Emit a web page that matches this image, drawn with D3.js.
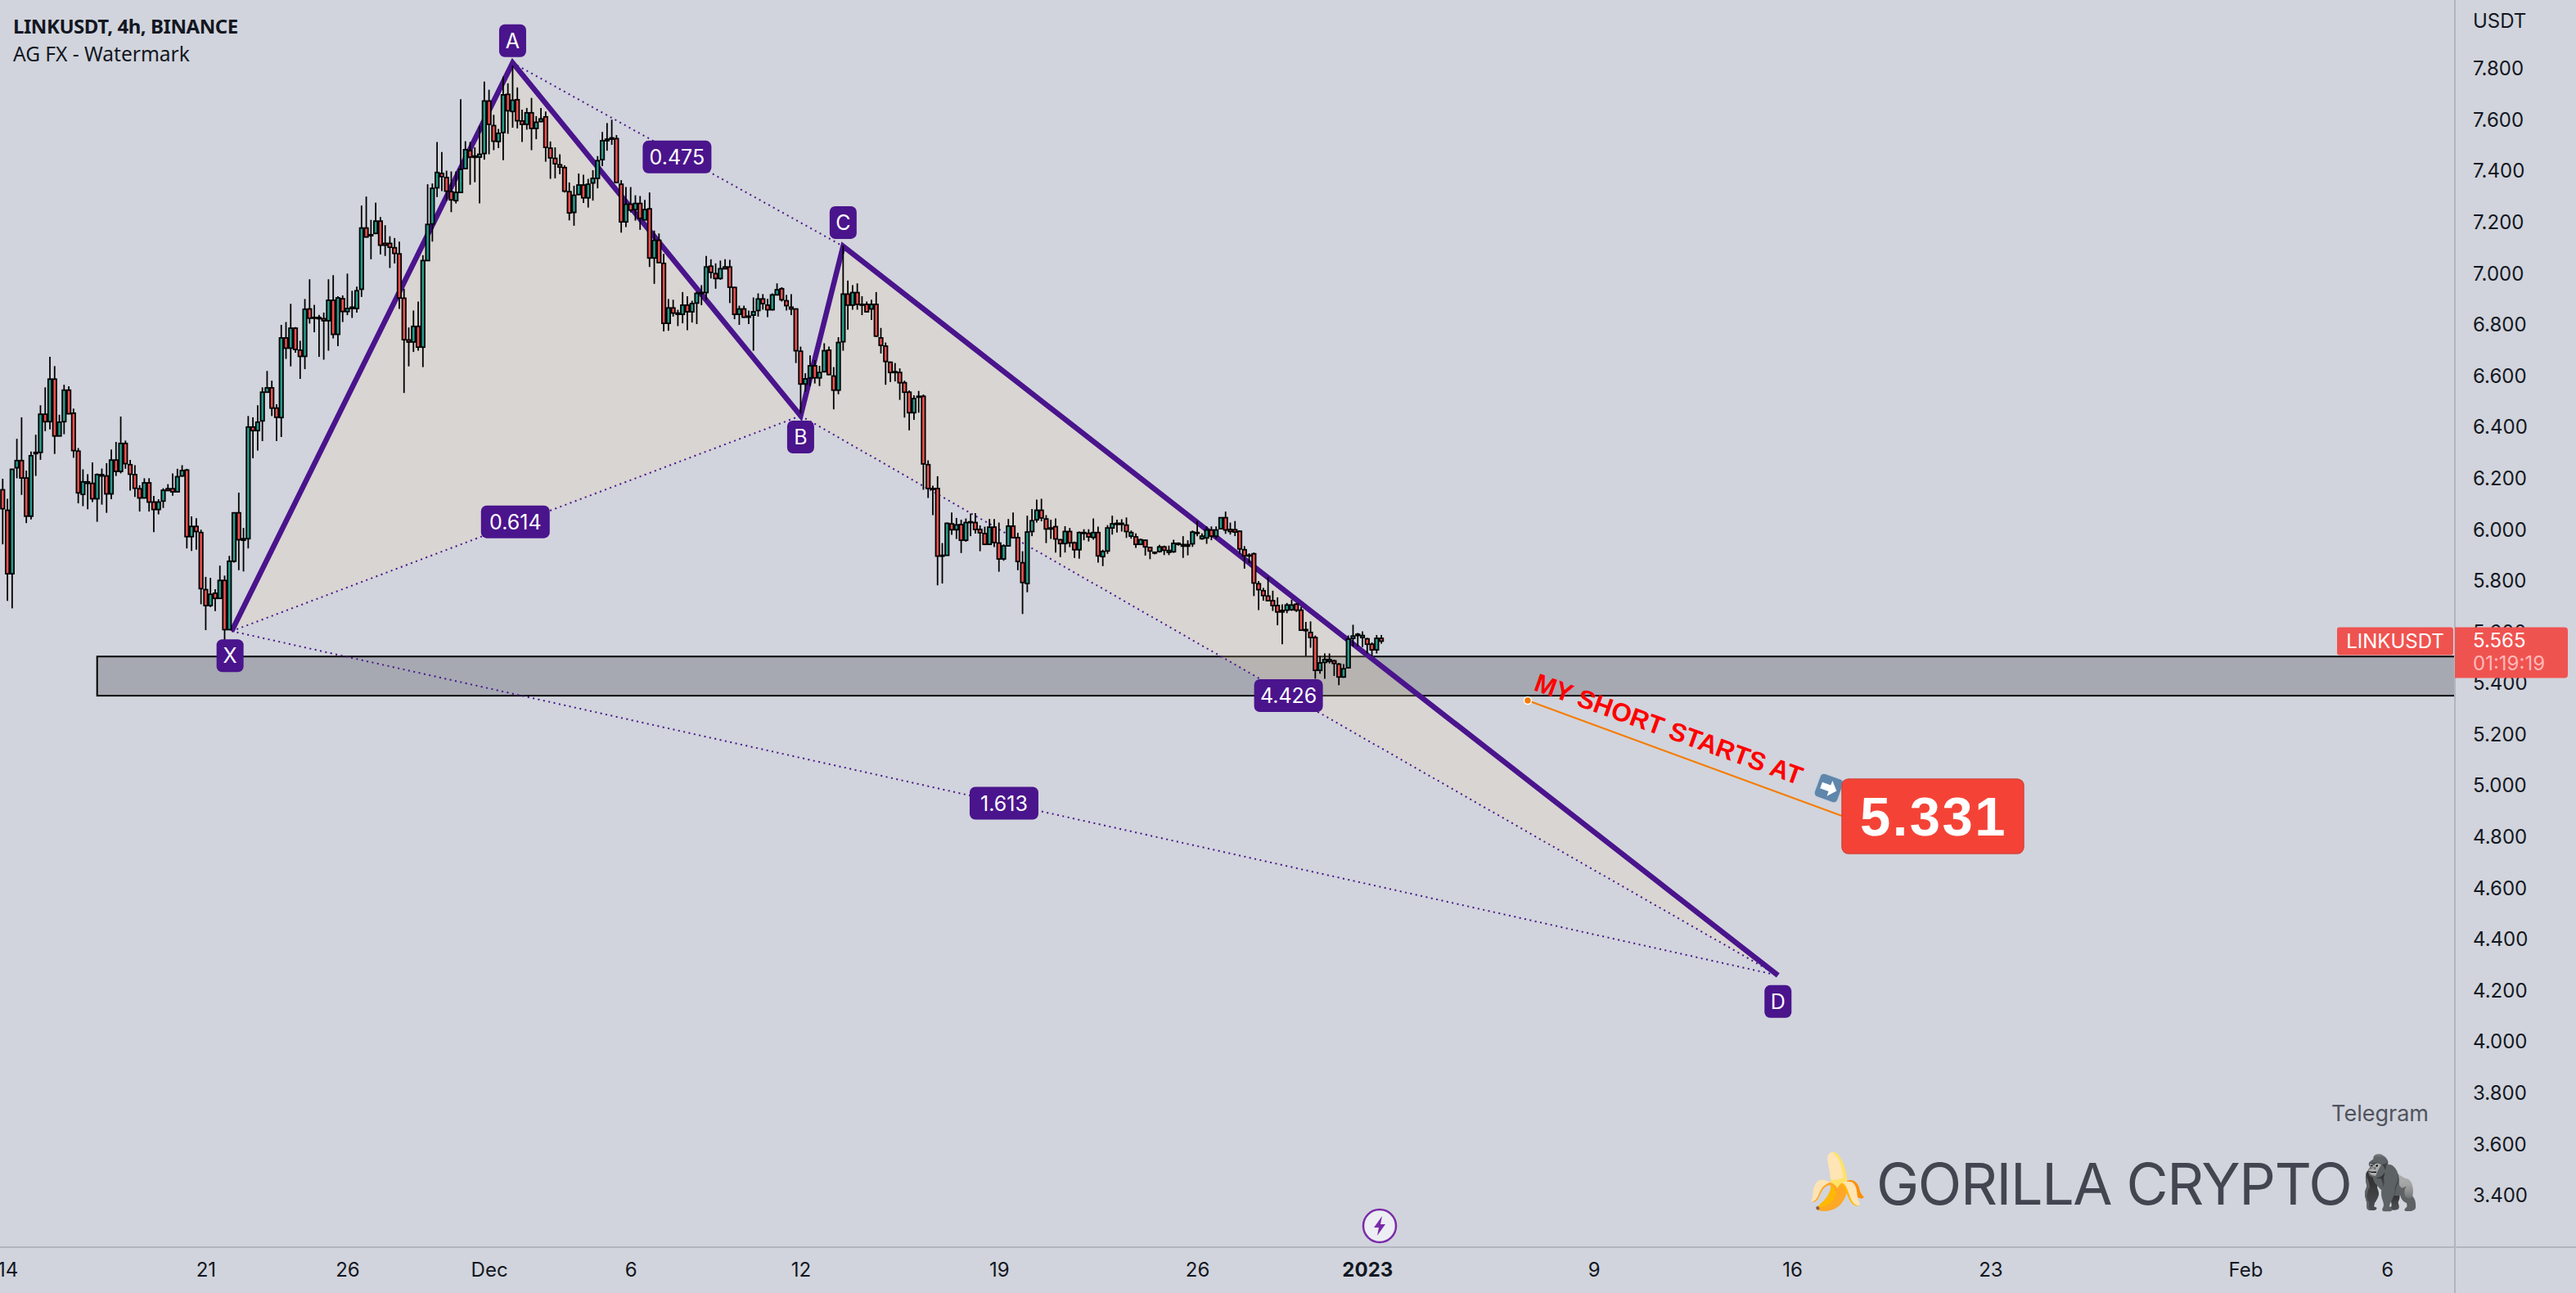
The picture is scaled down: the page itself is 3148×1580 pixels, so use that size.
<!DOCTYPE html>
<html>
<head>
<meta charset="utf-8">
<style>
  body { margin: 0; background: #d1d4dc; overflow: hidden; }
  text { font-family: Inter, "Noto Sans", sans-serif; }
</style>
<script src="https://cdn.jsdelivr.net/npm/d3@7"></script>
</head>
<body>
<div id="chart"></div>
<script>
// LINKUSDT 4h bars. First bar opens 13 Nov 2022 20:00
var firstBar = Date.UTC(2022, 10, 13, 20);
var opens = [
  6.156,6.076,5.828,6.242,6.270,6.202,6.053,6.297,6.302,6.451,
  6.422,6.588,6.366,6.422,6.545,6.455,6.307,6.138,6.187,6.181,
  6.121,6.215,6.210,6.140,6.272,6.228,6.337,6.254,6.215,6.160,
  6.124,6.183,6.108,6.079,6.112,6.160,6.160,6.148,6.210,6.233,
  5.973,6.013,5.989,5.766,5.704,5.752,5.732,5.802,5.610,5.877,
  6.066,5.965,5.965,6.401,6.387,6.425,6.537,6.554,6.475,6.438,
  6.749,6.709,6.787,6.701,6.677,6.862,6.829,6.829,6.824,6.816,
  6.896,6.763,6.902,6.852,6.864,6.864,6.939,7.178,7.152,7.157,
  7.205,7.118,7.118,7.101,7.077,6.904,6.741,6.733,6.794,6.713,
  7.051,7.194,7.335,7.391,7.375,7.320,7.285,7.317,7.410,7.480,
  7.459,7.455,7.469,7.674,7.578,7.516,7.551,7.700,7.633,7.679,
  7.596,7.583,7.628,7.567,7.594,7.612,7.490,7.450,7.425,7.414,
  7.320,7.239,7.309,7.346,7.296,7.354,7.372,7.445,7.519,7.530,
  7.527,7.349,7.202,7.271,7.250,7.274,7.210,7.253,7.061,7.130,
  7.040,6.806,6.866,6.846,6.841,6.877,6.851,6.885,6.923,6.926,
  7.029,7.000,6.981,7.019,7.026,6.946,6.841,6.862,6.834,6.838,
  6.856,6.901,6.877,6.859,6.917,6.941,6.894,6.869,6.862,6.697,
  6.569,6.593,6.640,6.593,6.617,6.701,6.600,6.545,6.734,6.920,
  6.877,6.926,6.880,6.880,6.862,6.880,6.749,6.717,6.654,6.617,
  6.614,6.574,6.537,6.457,6.521,6.521,6.254,6.161,6.161,5.900,
  5.900,6.023,6.000,6.020,5.959,6.028,6.028,6.001,5.985,5.943,
  6.010,5.948,5.886,5.937,6.014,5.969,5.871,5.790,5.993,6.039,
  6.076,6.042,6.007,6.012,5.961,5.946,5.993,5.949,5.922,5.989,
  5.986,5.970,5.989,5.895,5.917,6.007,6.025,6.025,6.018,5.975,
  5.972,5.943,5.959,5.931,5.912,5.915,5.933,5.912,5.914,5.947,
  5.942,5.942,5.945,5.986,5.965,5.968,5.999,5.975,6.004,6.047,
  6.001,6.000,5.994,5.922,5.901,5.906,5.789,5.762,5.741,5.723,
  5.704,5.685,5.686,5.688,5.709,5.686,5.610,5.599,5.579,5.451,
  5.482,5.486,5.488,5.475,5.425,5.461,5.576,5.592,5.579,5.574,
  5.553,5.531,5.576
];
var highs = [
  6.199,6.121,6.238,6.355,6.439,6.231,6.305,6.371,6.486,6.556,
  6.675,6.639,6.449,6.566,6.560,6.473,6.319,6.236,6.217,6.263,
  6.220,6.239,6.260,6.313,6.343,6.442,6.348,6.273,6.252,6.174,
  6.201,6.201,6.132,6.119,6.162,6.178,6.220,6.238,6.252,6.238,
  6.052,6.045,6.000,5.816,5.812,5.768,5.860,5.821,5.898,6.068,
  6.145,6.007,6.444,6.439,6.486,6.556,6.620,6.582,6.490,6.800,
  6.811,6.882,6.791,6.738,6.901,6.978,6.878,6.839,6.848,6.978,
  6.994,6.912,6.915,7.000,6.933,6.949,7.266,7.301,7.210,7.277,
  7.221,7.189,7.146,7.139,7.125,6.941,6.790,6.856,6.891,7.072,
  7.349,7.352,7.514,7.475,7.402,7.399,7.399,7.681,7.517,7.514,
  7.493,7.578,7.750,7.718,7.620,7.565,7.770,7.743,7.812,7.727,
  7.640,7.647,7.686,7.615,7.647,7.633,7.516,7.493,7.466,7.423,
  7.356,7.343,7.391,7.386,7.370,7.404,7.459,7.553,7.588,7.601,
  7.541,7.365,7.338,7.338,7.306,7.303,7.288,7.317,7.168,7.157,
  7.077,6.901,6.898,6.859,6.928,6.912,6.894,6.930,6.955,7.069,
  7.056,7.040,7.051,7.056,7.054,6.949,6.875,6.875,6.856,6.907,
  6.923,6.920,6.901,6.923,6.962,6.947,6.917,6.920,6.862,6.715,
  6.611,6.681,6.662,6.640,6.728,6.715,6.635,6.752,7.109,6.973,
  6.955,6.962,6.912,6.891,6.898,6.928,6.788,6.731,6.657,6.651,
  6.630,6.582,6.544,6.525,6.542,6.528,6.271,6.172,6.209,5.948,
  6.028,6.067,6.046,6.039,6.044,6.063,6.065,6.017,6.012,6.042,
  6.042,6.028,5.943,6.042,6.067,5.988,5.916,6.055,6.081,6.118,
  6.121,6.057,6.039,6.044,5.964,6.014,6.007,5.954,5.993,6.002,
  6.002,6.044,6.012,5.922,6.018,6.055,6.039,6.041,6.048,5.997,
  5.986,5.965,5.961,5.933,5.915,5.941,5.938,5.938,5.961,5.951,
  5.975,5.959,5.997,6.034,5.986,6.013,6.013,6.013,6.048,6.071,
  6.028,6.034,5.997,5.936,5.908,5.911,5.800,5.773,5.816,5.762,
  5.736,5.709,5.714,5.727,5.714,5.699,5.640,5.642,5.587,5.507,
  5.517,5.517,5.493,5.480,5.475,5.587,5.629,5.597,5.603,5.578,
  5.560,5.589,5.589
];
var lows = [
  5.943,5.722,5.693,6.201,6.136,6.026,6.040,6.210,6.273,6.385,
  6.392,6.296,6.366,6.373,6.451,6.281,6.103,6.092,6.080,6.108,
  6.031,6.098,6.066,6.119,6.210,6.220,6.238,6.153,6.128,6.071,
  6.124,6.071,5.991,6.060,6.085,6.151,6.133,6.148,6.207,5.927,
  5.917,5.922,5.709,5.608,5.698,5.682,5.730,5.533,5.608,5.872,
  5.842,5.837,5.927,6.279,6.309,6.346,6.537,6.444,6.346,6.362,
  6.667,6.638,6.691,6.589,6.627,6.805,6.771,6.675,6.664,6.699,
  6.747,6.717,6.811,6.838,6.827,6.848,6.909,7.141,7.056,7.154,
  7.075,7.069,7.022,7.040,6.862,6.534,6.638,6.694,6.699,6.635,
  7.051,7.125,7.299,7.322,7.285,7.240,7.274,7.317,7.407,7.347,
  7.357,7.274,7.445,7.466,7.482,7.490,7.443,7.546,7.570,7.567,
  7.514,7.562,7.482,7.525,7.591,7.437,7.370,7.372,7.388,7.317,
  7.208,7.187,7.306,7.276,7.258,7.285,7.333,7.420,7.480,7.503,
  7.354,7.160,7.182,7.239,7.207,7.171,7.210,7.026,6.960,7.043,
  6.774,6.777,6.832,6.795,6.806,6.779,6.809,6.803,6.877,6.896,
  6.981,6.941,6.976,7.019,6.885,6.822,6.800,6.827,6.803,6.699,
  6.832,6.859,6.830,6.856,6.915,6.891,6.856,6.838,6.651,6.454,
  6.539,6.561,6.571,6.561,6.614,6.603,6.470,6.529,6.699,6.781,
  6.859,6.859,6.838,6.848,6.819,6.752,6.688,6.566,6.577,6.579,
  6.507,6.438,6.388,6.429,6.457,6.156,6.124,6.057,5.783,5.790,
  5.900,5.980,5.964,5.909,5.953,5.975,5.985,5.916,5.940,5.943,
  5.932,5.836,5.879,5.937,5.967,5.842,5.671,5.756,5.975,6.028,
  6.033,5.948,5.964,5.911,5.893,5.911,5.932,5.890,5.887,5.959,
  5.954,5.961,5.872,5.858,5.906,5.981,5.989,5.993,5.968,5.965,
  5.929,5.940,5.899,5.885,5.904,5.911,5.901,5.901,5.910,5.938,
  5.890,5.900,5.933,5.975,5.961,5.945,5.959,5.965,6.001,5.984,
  5.981,5.975,5.906,5.848,5.869,5.741,5.686,5.723,5.720,5.683,
  5.627,5.553,5.674,5.683,5.679,5.606,5.507,5.539,5.418,5.438,
  5.418,5.478,5.429,5.393,5.422,5.459,5.544,5.544,5.542,5.517,
  5.507,5.517,5.555
];
var closes = [
  6.082,5.828,6.236,6.270,6.202,6.053,6.289,6.302,6.451,6.422,
  6.588,6.366,6.420,6.545,6.453,6.309,6.144,6.187,6.181,6.121,
  6.215,6.210,6.140,6.272,6.228,6.337,6.258,6.217,6.162,6.124,
  6.183,6.108,6.079,6.108,6.154,6.153,6.148,6.207,6.231,5.973,
  6.013,5.993,5.770,5.704,5.748,5.732,5.802,5.610,5.877,6.066,
  5.961,5.959,6.401,6.387,6.420,6.537,6.554,6.475,6.439,6.749,
  6.709,6.787,6.704,6.677,6.861,6.826,6.826,6.824,6.816,6.896,
  6.763,6.905,6.852,6.864,6.869,6.933,7.178,7.143,7.148,7.205,
  7.111,7.111,7.103,7.079,6.905,6.742,6.733,6.794,6.713,7.051,
  7.192,7.333,7.395,7.379,7.322,7.288,7.317,7.407,7.484,7.455,
  7.454,7.466,7.674,7.583,7.517,7.548,7.698,7.636,7.677,7.597,
  7.583,7.628,7.567,7.591,7.604,7.493,7.452,7.429,7.416,7.322,
  7.237,7.306,7.346,7.296,7.349,7.372,7.441,7.519,7.525,7.525,
  7.356,7.202,7.271,7.248,7.274,7.216,7.250,7.061,7.130,7.043,
  6.806,6.866,6.846,6.841,6.877,6.851,6.883,6.923,6.926,7.026,
  7.005,6.981,7.019,7.026,6.947,6.841,6.862,6.830,6.830,6.851,
  6.901,6.883,6.859,6.917,6.937,6.898,6.875,6.862,6.699,6.569,
  6.589,6.640,6.593,6.614,6.699,6.606,6.545,6.731,6.920,6.877,
  6.926,6.880,6.878,6.851,6.880,6.756,6.720,6.657,6.614,6.614,
  6.574,6.537,6.457,6.512,6.518,6.257,6.161,6.159,5.897,5.897,
  6.025,6.000,6.019,5.959,6.028,6.031,6.001,5.988,5.943,6.010,
  5.950,5.886,5.937,6.014,5.969,5.876,5.794,5.991,6.035,6.076,
  6.046,6.003,6.003,5.964,5.946,5.993,5.949,5.922,5.989,5.986,
  5.972,5.989,5.898,5.915,6.007,6.023,6.021,6.021,5.993,5.989,
  5.943,5.961,5.933,5.917,5.910,5.933,5.920,5.919,5.947,5.943,
  5.936,5.936,5.991,5.989,5.975,5.999,5.975,5.999,6.047,5.999,
  5.993,5.991,5.925,5.898,5.898,5.792,5.766,5.743,5.723,5.704,
  5.679,5.679,5.706,5.706,5.686,5.608,5.606,5.579,5.451,5.480,
  5.493,5.493,5.478,5.425,5.457,5.573,5.585,5.587,5.587,5.553,
  5.531,5.576,5.565
];

// harmonic pattern points
var patternNames = ["X", "A", "B", "C", "D"];
var patternDates = [
  Date.UTC(2022, 10, 21, 22),
  Date.UTC(2022, 11, 1, 20),
  Date.UTC(2022, 11, 12, 0),
  Date.UTC(2022, 11, 13, 12),
  Date.UTC(2023, 0, 15, 12)
];
var patternPrices = [5.604, 7.823, 6.445, 7.107, 4.26];
// dotted legs as index pairs and their ratio labels
var ratioLegs = [[0, 2], [1, 3], [2, 4], [0, 4]];
var ratioLabels = ["0.614", "0.475", "4.426", "1.613"];

var zonePrices = [5.505, 5.352];
var zoneDates = [Date.UTC(2022, 10, 17, 4), Date.UTC(2023, 1, 12)];
var entryDate = Date.UTC(2023, 0, 6, 16);
var entryPrice = 5.333;
var lastPrice = 5.565;

var priceTicks = d3.range(3.4, 7.81, 0.2);
var timeTicks = [
  Date.UTC(2022, 10, 14), Date.UTC(2022, 10, 21), Date.UTC(2022, 10, 26),
  Date.UTC(2022, 11, 1), Date.UTC(2022, 11, 6), Date.UTC(2022, 11, 12),
  Date.UTC(2022, 11, 19), Date.UTC(2022, 11, 26), Date.UTC(2023, 0, 1),
  Date.UTC(2023, 0, 9), Date.UTC(2023, 0, 16), Date.UTC(2023, 0, 23),
  Date.UTC(2023, 1, 1), Date.UTC(2023, 1, 6)
];
var timeLabels = ["14", "21", "26", "Dec", "6", "12", "19", "26", "2023", "9", "16", "23", "Feb", "6"];

var width = 3148,
  height = 1580,
  plotRight = 3000,
  plotBottom = 1524;

var purple = "#4a148c";

var x = d3
  .scaleUtc()
  .domain([Date.UTC(2022, 11, 1), Date.UTC(2023, 1, 1)])
  .range([597.6, 2744]);
var y = d3.scaleLinear().domain([3.4, 7.8]).range([1461, 84]);

var svg = d3
  .select("#chart")
  .append("svg")
  .attr("width", width)
  .attr("height", height)
  .style("display", "block");

svg.append("rect").attr("width", width).attr("height", height).attr("fill", "#d1d4dc");

svg
  .append("clipPath")
  .attr("id", "plot")
  .append("rect")
  .attr("width", plotRight)
  .attr("height", plotBottom);

var plot = svg.append("g").attr("clip-path", "url(#plot)");

// support zone
plot
  .append("rect")
  .attr("x", x(zoneDates[0]))
  .attr("y", y(zonePrices[0]))
  .attr("width", x(zoneDates[1]) - x(zoneDates[0]))
  .attr("height", y(zonePrices[1]) - y(zonePrices[0]))
  .attr("fill", "#a6a9b2")
  .attr("stroke", "#000")
  .attr("stroke-width", 2);

var pts = patternNames.map(function (name, i) {
  return { name: name, x: x(patternDates[i]), y: y(patternPrices[i]) };
});

// pattern triangles
[[0, 1, 2], [2, 3, 4]].forEach(function (tri) {
  plot
    .append("path")
    .attr("d", d3.line().x((i) => pts[i].x).y((i) => pts[i].y)(tri) + "Z")
    .attr("fill", "rgba(250,222,170,0.2)");
});

// dotted legs
plot
  .selectAll(".leg")
  .data(ratioLegs)
  .enter()
  .append("line")
  .attr("class", "leg")
  .attr("x1", (d) => pts[d[0]].x)
  .attr("y1", (d) => pts[d[0]].y)
  .attr("x2", (d) => pts[d[1]].x)
  .attr("y2", (d) => pts[d[1]].y)
  .attr("stroke", purple)
  .attr("stroke-width", 2)
  .attr("stroke-dasharray", "2 4.5");

// thick XABCD line
plot
  .append("path")
  .attr("d", d3.line().x((d) => d.x).y((d) => d.y)(pts))
  .attr("fill", "none")
  .attr("stroke", purple)
  .attr("stroke-width", 6.5);

// candles
var bars = opens.map(function (o, i) {
  return {
    t: firstBar + i * 4 * 3600 * 1000,
    o: o,
    h: highs[i],
    l: lows[i],
    c: closes[i]
  };
});

var candle = plot
  .selectAll(".candle")
  .data(bars)
  .enter()
  .append("g")
  .attr("class", "candle");

candle
  .append("line")
  .attr("x1", (d) => x(d.t))
  .attr("x2", (d) => x(d.t))
  .attr("y1", (d) => y(d.h))
  .attr("y2", (d) => y(d.l))
  .attr("stroke", "#000")
  .attr("stroke-width", 1.8);

candle
  .append("rect")
  .attr("x", (d) => x(d.t) - 2.2)
  .attr("width", 4.4)
  .attr("y", (d) => y(Math.max(d.o, d.c)))
  .attr("height", (d) => Math.max(1, Math.abs(y(d.o) - y(d.c))))
  .attr("fill", (d) => (d.c >= d.o ? "#26998a" : "#e9504f"))
  .attr("stroke", "#000")
  .attr("stroke-width", 1.8);

// point and ratio labels
function label(cx, cy, w, h, txt) {
  svg
    .append("rect")
    .attr("x", cx - w / 2)
    .attr("y", cy - h / 2)
    .attr("width", w)
    .attr("height", h)
    .attr("rx", 7)
    .attr("fill", purple);
  svg
    .append("text")
    .attr("x", cx)
    .attr("y", cy)
    .attr("dy", "0.36em")
    .attr("text-anchor", "middle")
    .attr("font-size", 25)
    .attr("fill", "#fff")
    .text(txt);
}

var labelOffsets = { X: 30, A: -27, B: 26, C: -29, D: 32 };
pts.forEach(function (p) {
  label(p.x - (p.name == "X" ? 2 : 0), p.y + labelOffsets[p.name], 33, 40, p.name);
});
var ratioNudge = [-2, 3, 0, 0];
ratioLegs.forEach(function (leg, i) {
  var a = pts[leg[0]],
    b = pts[leg[1]];
  label((a.x + b.x) / 2 - 1, (a.y + b.y) / 2 + ratioNudge[i], 84, 40, ratioLabels[i]);
});

// short entry callout
var entryX = x(entryDate),
  entryY = y(entryPrice);
var boxX = 2251,
  boxY = 952,
  boxW = 222,
  boxH = 91;

svg
  .append("line")
  .attr("x1", entryX)
  .attr("y1", entryY)
  .attr("x2", boxX)
  .attr("y2", boxY + 45)
  .attr("stroke", "#f57c00")
  .attr("stroke-width", 2);
svg
  .append("circle")
  .attr("cx", entryX)
  .attr("cy", entryY)
  .attr("r", 4.5)
  .attr("fill", "#f57c00")
  .attr("stroke", "#fff")
  .attr("stroke-width", 1.5);
svg
  .append("text")
  .attr("transform", "translate(1873,843) rotate(19.7)")
  .style("font-family", "'Liberation Sans'")
  .attr("font-weight", 700)
  .attr("font-size", 31.5)
  .attr("fill", "#f00")
  .text("MY SHORT STARTS AT");

// arrow icon
var arrow = svg.append("g").attr("transform", "translate(2235,963) rotate(20)");
arrow
  .append("rect")
  .attr("x", -15)
  .attr("y", -15)
  .attr("width", 30)
  .attr("height", 30)
  .attr("rx", 5)
  .attr("fill", "#5f86ab")
  .attr("stroke", "#c5d0dc")
  .attr("stroke-width", 1);
arrow
  .append("path")
  .attr("d", "M-10,-4H1V-10L10,0L1,10V4H-10Z")
  .attr("fill", "#fff");

svg
  .append("rect")
  .attr("x", boxX)
  .attr("y", boxY)
  .attr("width", boxW)
  .attr("height", boxH)
  .attr("rx", 8)
  .attr("fill", "#f44336")
  .attr("stroke", "#d8423a")
  .attr("stroke-width", 1.5);
svg
  .append("text")
  .attr("x", boxX + boxW / 2 + 1)
  .attr("y", boxY + 69)
  .attr("text-anchor", "middle")
  .style("font-family", "'Liberation Sans'")
  .style("letter-spacing", "2.5px")
  .attr("font-weight", 700)
  .attr("font-size", 67)
  .attr("fill", "#fff")
  .text("5.331");

// axes
var yAxis = d3
  .axisRight(y)
  .tickValues(priceTicks)
  .tickSize(0)
  .tickPadding(22)
  .tickFormat(d3.format(".3f"));
var yAxisG = svg.append("g").attr("transform", "translate(" + plotRight + ",0)").call(yAxis);
yAxisG.select(".domain").remove();
yAxisG.selectAll("text").attr("font-size", 24).attr("fill", "#131722").style("font-family", "Inter");

var xAxis = d3
  .axisBottom(x)
  .tickValues(timeTicks)
  .tickSize(0)
  .tickPadding(19)
  .tickFormat((d, i) => timeLabels[i]);
var xAxisG = svg.append("g").attr("transform", "translate(0," + plotBottom + ")").call(xAxis);
xAxisG.select(".domain").remove();
xAxisG
  .selectAll("text")
  .attr("font-size", 24)
  .attr("fill", "#131722")
  .style("font-family", "Inter")
  .attr("font-weight", (d, i) => (timeLabels[i] == "2023" ? 700 : 400));

svg
  .append("line")
  .attr("x1", plotRight)
  .attr("x2", plotRight)
  .attr("y2", height)
  .attr("stroke", "#b2b5be")
  .attr("stroke-width", 2);
svg
  .append("line")
  .attr("x2", width)
  .attr("y1", plotBottom)
  .attr("y2", plotBottom)
  .attr("stroke", "#b2b5be")
  .attr("stroke-width", 2);

svg
  .append("text")
  .attr("x", plotRight + 22)
  .attr("y", 34)
  .attr("font-size", 24)
  .attr("fill", "#131722")
  .text("USDT");

// last price tag
var tagY = y(lastPrice);
svg
  .append("rect")
  .attr("x", 2856)
  .attr("y", tagY - 17)
  .attr("width", 142)
  .attr("height", 34)
  .attr("rx", 3)
  .attr("fill", "#ef5350");
svg
  .append("text")
  .attr("x", 2927)
  .attr("y", tagY)
  .attr("dy", "0.36em")
  .attr("text-anchor", "middle")
  .attr("font-size", 24)
  .attr("fill", "#fff")
  .text("LINKUSDT");
svg
  .append("path")
  .attr("d", "M3000," + (tagY - 17) + "H3134a4,4 0 0 1 4,4V" + (tagY + 41) + "a4,4 0 0 1 -4,4H3000Z")
  .attr("fill", "#ef5350");
svg
  .append("text")
  .attr("x", plotRight + 22)
  .attr("y", tagY + 8)
  .attr("font-size", 24)
  .attr("fill", "#fff")
  .text("5.565");
svg
  .append("text")
  .attr("x", plotRight + 22)
  .attr("y", tagY + 36)
  .attr("font-size", 24)
  .attr("fill", "#ffb9b8")
  .text("01:19:19");

// titles
svg
  .append("text")
  .attr("x", 16)
  .attr("y", 41)
  .style("font-family", "'Noto Sans'")
  .style("letter-spacing", "-0.45px")
  .attr("font-size", 24)
  .attr("font-weight", 700)
  .attr("fill", "#131722")
  .text("LINKUSDT, 4h, BINANCE");
svg
  .append("text")
  .attr("x", 16)
  .attr("y", 75)
  .style("font-family", "'Noto Sans'")
  .attr("font-size", 24.5)
  .attr("fill", "#131722")
  .text("AG FX - Watermark");

// watermark
svg
  .append("text")
  .attr("x", 2968)
  .attr("y", 1370)
  .attr("text-anchor", "end")
  .attr("font-size", 27)
  .attr("fill", "#50535e")
  .text("Telegram");
svg
  .append("text")
  .attr("x", 2293)
  .attr("y", 1472)
  .style("letter-spacing", "-1.4px")
  .attr("font-size", 70)
  .attr("fill", "#434651")
  .text("GORILLA CRYPTO");
svg.append("text").attr("x", 2203).attr("y", 1467).attr("font-size", 66).text("\u{1F34C}");
svg.append("text").attr("x", 2880).attr("y", 1467).attr("font-size", 64).text("\u{1F98D}");

// lightning badge
var badge = svg.append("g").attr("transform", "translate(1686,1498)");
badge
  .append("circle")
  .attr("r", 20)
  .attr("fill", "#eceef4")
  .attr("stroke", "#7b2ca8")
  .attr("stroke-width", 2.5);
badge.append("path").attr("d", "M3,-12L-7,2H-1L-3,12L7,-2H1Z").attr("fill", "#7b2ca8");
</script>
</body>
</html>
